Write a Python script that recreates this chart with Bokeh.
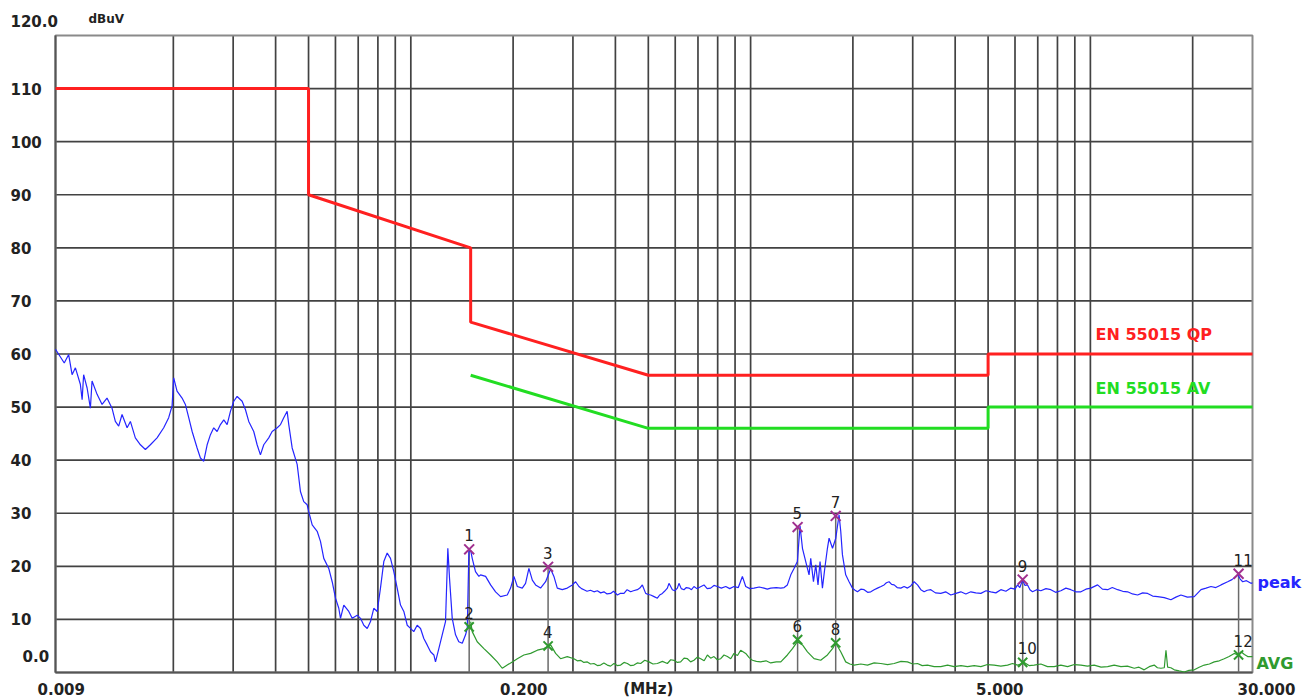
import math
from bokeh.plotting import figure
from bokeh.embed import file_html
from bokeh.resources import INLINE
from bokeh.core.properties import value

# ---------------- data ----------------
X_START, X_END = 0.009, 30.0
Y_START, Y_END = 0.0, 120.0

grid_freqs = [0.02, 0.03, 0.04, 0.05, 0.06, 0.07, 0.08, 0.09, 0.1,
              0.2, 0.3, 0.4, 0.5, 0.6, 0.7, 0.8, 0.9, 1.0,
              2, 3, 4, 5, 6, 7, 8, 9, 10, 20]
level_ticks = [10, 20, 30, 40, 50, 60, 70, 80, 90, 100, 110]
y_tick_labels = ["10", "20", "30", "40", "50", "60", "70", "80", "90", "100", "110"]
x_tick_values = [0.009, 0.2, 0.5, 5.0, 30.0]
x_tick_labels = ["0.009", "0.200", "(MHz)", "5.000", "30.000"]

qp_freq = [0.009, 0.05, 0.05, 0.15, 0.15, 0.5, 5.0, 5.0, 30.0]
qp_level = [110, 110, 90, 80, 66, 56, 56, 60, 60]
av_freq = [0.15, 0.5, 5.0, 5.0, 30.0]
av_level = [56, 46, 46, 50, 50]

peak_freq = [
    0.009, 0.00955, 0.00984, 0.01007, 0.0103, 0.01065, 0.01078, 0.01089, 0.01115, 0.0114,
    0.01153, 0.01193, 0.01234, 0.01276, 0.0132, 0.0135, 0.01381, 0.01413, 0.01462, 0.01495,
    0.01546, 0.016, 0.01655, 0.01712, 0.01791, 0.01874, 0.01938, 0.01983, 0.02005, 0.02051,
    0.02122, 0.0217, 0.0222, 0.02272, 0.0235, 0.02403, 0.02458, 0.02515, 0.02572, 0.0263,
    0.02691, 0.02752, 0.02815, 0.0288, 0.02945, 0.03012, 0.03082, 0.03188, 0.03261, 0.03334,
    0.03449, 0.03529, 0.03609, 0.03691, 0.03818, 0.03907, 0.04044, 0.04135, 0.04227, 0.04325,
    0.04373, 0.04475, 0.04629, 0.04733, 0.0484, 0.04953, 0.05007, 0.05125, 0.05301, 0.05421,
    0.05544, 0.05734, 0.05869, 0.06002, 0.06138, 0.06209, 0.06349, 0.06568, 0.06721, 0.06954,
    0.07111, 0.07272, 0.07441, 0.07609, 0.0778, 0.07962, 0.08141, 0.08327, 0.0852, 0.08713,
    0.0891, 0.09117, 0.09324, 0.09537, 0.09759, 0.0998, 0.102, 0.1044, 0.1068, 0.1092,
    0.1117, 0.1143, 0.1169, 0.1182, 0.1209, 0.1237, 0.1265, 0.1285, 0.13, 0.1324,
    0.1354, 0.1384, 0.1417, 0.1449, 0.1466, 0.1482, 0.15, 0.1516, 0.155, 0.1586,
    0.1604, 0.166, 0.1717, 0.1776, 0.1837, 0.1922, 0.1966, 0.2011, 0.2058, 0.2128,
    0.2176, 0.2226, 0.2278, 0.2329, 0.2409, 0.2493, 0.2579, 0.2637, 0.2698, 0.2791,
    0.2887, 0.2988, 0.3055, 0.3124, 0.318, 0.3232, 0.33, 0.338, 0.3458, 0.354,
    0.362, 0.3701, 0.378, 0.3873, 0.395, 0.4054, 0.413, 0.424, 0.433, 0.4436,
    0.452, 0.4642, 0.472, 0.4802, 0.4911, 0.5, 0.508, 0.52, 0.5316, 0.54,
    0.5499, 0.558, 0.5689, 0.5751, 0.5885, 0.598, 0.6088, 0.6154, 0.625, 0.6366,
    0.647, 0.6585, 0.67, 0.6812, 0.695, 0.71, 0.7292, 0.745, 0.763, 0.78,
    0.7985, 0.82, 0.8449, 0.868, 0.8936, 0.92, 0.9458, 0.9674, 0.995, 1.023,
    1.06, 1.095, 1.12, 1.146, 1.19, 1.227, 1.255, 1.283, 1.313, 1.342,
    1.373, 1.398, 1.421, 1.453, 1.486, 1.503, 1.531, 1.555, 1.579, 1.601,
    1.627, 1.653, 1.683, 1.702, 1.742, 1.781, 1.821, 1.842, 1.863, 1.905,
    1.949, 1.994, 2.03, 2.063, 2.11, 2.158, 2.21, 2.258, 2.31, 2.363,
    2.42, 2.471, 2.51, 2.556, 2.6, 2.645, 2.7, 2.767, 2.83, 2.895,
    2.96, 3.029, 3.099, 3.17, 3.241, 3.31, 3.391, 3.5, 3.629, 3.75,
    3.883, 4.02, 4.156, 4.3, 4.448, 4.6, 4.761, 4.93, 5.093, 5.27,
    5.451, 5.64, 5.833, 6.0, 6.104, 6.2, 6.315, 6.42, 6.533, 6.64,
    6.757, 6.95, 7.148, 7.4, 7.649, 7.9, 8.185, 8.47, 8.76, 9.06,
    9.38, 9.7, 10.03, 10.5, 10.85, 11.24, 11.6, 12.03, 12.45, 12.87,
    13.3, 13.77, 14.25, 14.74, 15.25, 15.77, 16.5, 17.26, 17.85, 18.47,
    19.3, 20.22, 21.16, 21.9, 22.64, 23.4, 24.23, 25.35, 26.1, 26.82,
    27.19, 27.6, 28.07, 28.8, 29.69, 30.0,
]
peak_level = [
    60.9, 58.3, 59.9, 56.1, 57.4, 54.3, 51.4, 56.1, 53.6, 49.8,
    54.9, 52.4, 50.5, 51.7, 49.8, 47.3, 46.4, 48.6, 46.1, 47.3,
    44.2, 42.9, 42.0, 42.9, 44.2, 46.1, 48.0, 50.2, 55.5, 53.0,
    51.7, 50.5, 48.0, 45.4, 42.3, 40.4, 39.8, 42.9, 44.8, 46.1,
    45.4, 46.7, 47.6, 46.7, 49.2, 51.1, 52.0, 51.1, 49.5, 47.3,
    45.4, 42.9, 41.0, 42.9, 44.2, 45.4, 46.1, 46.7, 48.0, 49.2,
    46.7, 42.3, 39.2, 34.1, 32.2, 31.6, 30.3, 27.8, 26.6, 24.7,
    21.5, 19.6, 17.1, 14.0, 12.1, 10.2, 12.7, 11.5, 10.2, 10.8,
    10.2, 8.9, 8.3, 9.6, 12.1, 11.5, 15.9, 20.9, 22.5, 21.5,
    19.0, 15.9, 12.7, 11.5, 8.9, 8.3, 7.7, 8.9, 8.3, 6.4,
    5.2, 3.9, 3.3, 2.0, 4.5, 7.1, 9.6, 23.4, 17.7, 10.2,
    7.1, 5.8, 5.5, 7.1, 8.3, 22.8, 23.0, 21.5, 19.0, 18.1,
    18.4, 18.1, 16.5, 15.2, 14.3, 14.6, 15.9, 18.1, 16.2, 15.9,
    16.8, 19.6, 17.4, 16.5, 15.9, 17.1, 19.5, 18.1, 15.9, 15.6,
    15.9, 16.5, 17.1, 16.2, 15.8, 15.6, 15.3, 15.5, 15.2, 15.4,
    15.0, 15.2, 14.8, 14.9, 15.3, 14.6, 14.9, 14.9, 15.6, 15.2,
    15.4, 15.6, 15.9, 16.5, 14.9, 14.7, 14.6, 14.3, 14.0, 14.6,
    14.9, 15.3, 15.9, 16.8, 15.6, 15.4, 15.9, 16.8, 15.8, 15.6,
    16.0, 15.9, 15.6, 16.2, 15.8, 16.1, 16.5, 15.8, 15.9, 16.4,
    16.2, 15.9, 16.2, 15.8, 16.2, 16.0, 18.1, 16.2, 15.8, 15.9,
    16.1, 15.9, 15.7, 15.9, 16.0, 15.9, 16.0, 16.5, 18.4, 19.6,
    20.9, 27.6, 23.4, 20.9, 18.4, 21.5, 17.1, 20.3, 16.5, 20.9,
    15.9, 19.6, 23.4, 25.3, 23.4, 25.3, 29.7, 26.6, 22.2, 18.4,
    17.1, 15.9, 15.5, 15.2, 15.7, 15.6, 15.1, 15.2, 15.6, 15.9,
    16.2, 16.5, 16.9, 17.1, 16.6, 16.5, 16.0, 15.9, 16.2, 15.9,
    16.3, 17.1, 16.5, 15.6, 15.2, 15.5, 15.6, 15.0, 14.9, 15.2,
    14.6, 14.9, 15.2, 14.8, 15.2, 15.0, 14.9, 15.4, 15.2, 15.0,
    15.6, 15.3, 15.9, 15.7, 16.5, 16.0, 17.4, 16.4, 16.5, 15.6,
    15.2, 15.6, 15.4, 15.8, 15.6, 15.1, 15.4, 15.9, 15.6, 15.2,
    15.2, 15.7, 15.9, 16.5, 15.7, 15.6, 16.0, 15.6, 15.3, 15.2,
    14.8, 14.6, 15.0, 14.9, 14.4, 14.3, 14.1, 13.7, 14.2, 14.6,
    14.2, 14.3, 15.6, 15.9, 16.2, 16.0, 16.5, 17.1, 17.5, 18.1,
    18.4, 17.6, 17.1, 17.3, 16.8, 16.9,
]

avg_freq = [
    0.15, 0.1516, 0.1568, 0.1641, 0.1717, 0.1796, 0.1858, 0.1922, 0.1989, 0.2058,
    0.2151, 0.2252, 0.2357, 0.2464, 0.2579, 0.2668, 0.2759, 0.2887, 0.302, 0.309,
    0.316, 0.323, 0.3307, 0.338, 0.3458, 0.354, 0.3618, 0.37, 0.3786, 0.387,
    0.3962, 0.405, 0.4145, 0.424, 0.4338, 0.443, 0.4536, 0.464, 0.4747, 0.488,
    0.5022, 0.516, 0.5316, 0.55, 0.5689, 0.582, 0.595, 0.609, 0.6224, 0.637,
    0.6516, 0.666, 0.6812, 0.697, 0.7131, 0.73, 0.7462, 0.763, 0.7803, 0.798,
    0.8166, 0.835, 0.8545, 0.874, 0.8936, 0.915, 0.935, 0.9674, 0.99, 1.012,
    1.04, 1.071, 1.11, 1.146, 1.19, 1.227, 1.283, 1.328, 1.373, 1.421,
    1.47, 1.537, 1.608, 1.683, 1.742, 1.781, 1.842, 1.905, 1.96, 2.016,
    2.11, 2.208, 2.31, 2.416, 2.53, 2.645, 2.77, 2.895, 3.0, 3.099,
    3.2, 3.316, 3.47, 3.629, 3.8, 3.971, 4.16, 4.349, 4.55, 4.761,
    4.98, 5.208, 5.45, 5.704, 5.9, 6.104, 6.25, 6.384, 6.6, 6.831,
    7.15, 7.478, 7.822, 8.185, 8.57, 8.97, 9.38, 9.8, 10.26, 10.75,
    11.24, 11.75, 12.3, 12.85, 13.46, 13.9, 14.4, 14.9, 15.41, 15.75,
    16.13, 16.5, 16.69, 16.88, 17.25, 17.66, 18.25, 18.89, 19.5, 20.22,
    20.9, 21.64, 22.4, 23.15, 23.95, 24.77, 25.6, 26.51, 27.19, 27.75,
    28.4, 29.04, 30.0,
]
avg_level = [
    9.6, 7.7, 5.8, 4.5, 3.3, 2.0, 0.8, 1.4, 2.0, 2.6,
    3.3, 3.6, 4.2, 4.5, 5.2, 3.6, 2.6, 3.0, 2.6, 2.2,
    2.3, 1.9, 2.0, 1.6, 1.7, 1.3, 1.4, 1.8, 1.4, 1.2,
    1.7, 1.3, 1.4, 1.9, 1.7, 1.3, 1.4, 1.8, 1.7, 2.3,
    2.0, 1.6, 1.7, 2.1, 1.7, 2.4, 2.3, 1.9, 2.0, 2.7,
    2.6, 2.0, 2.3, 2.9, 2.6, 2.2, 3.3, 2.7, 3.0, 2.4,
    2.6, 3.3, 3.0, 2.6, 3.6, 3.2, 4.2, 3.6, 2.8, 2.3,
    2.1, 2.0, 2.2, 1.8, 2.0, 2.0, 3.3, 4.5, 5.8, 5.2,
    3.9, 2.6, 2.3, 3.3, 4.5, 5.5, 3.9, 2.0, 1.6, 1.4,
    1.6, 1.4, 1.8, 1.7, 1.5, 1.7, 2.1, 2.0, 1.6, 1.7,
    1.3, 1.4, 1.1, 1.1, 1.4, 1.1, 1.3, 1.1, 1.3, 1.1,
    1.5, 1.4, 1.2, 1.4, 1.7, 1.4, 1.6, 1.9, 1.3, 1.4,
    1.6, 1.1, 1.1, 1.4, 1.1, 1.5, 1.4, 1.2, 1.4, 1.0,
    1.1, 1.4, 1.1, 1.2, 0.8, 1.0, 0.5, 1.1, 1.4, 0.9,
    0.8, 0.9, 4.2, 1.0, 0.9, 0.5, 0.3, 0.1, 0.4, 0.5,
    1.0, 1.4, 1.6, 2.0, 2.2, 2.6, 3.0, 3.6, 3.3, 3.9,
    3.4, 3.0, 3.0,
]

marker_ids = ["1", "2", "3", "4", "5", "6", "7", "8", "9", "10", "11", "12"]
marker_freq = [0.1485, 0.1485, 0.2535, 0.2535, 1.375, 1.375, 1.78, 1.78, 6.32, 6.32, 27.3, 27.3]
marker_level = [23.2, 8.6, 19.9, 5.0, 27.4, 6.2, 29.5, 5.6, 17.5, 1.9, 18.6, 3.3]

# ---------------- layout & styles ----------------
W, H = 1314, 700
FRAME_L, FRAME_R, FRAME_T, FRAME_B = 55, 1252, 35, 672   # plot box in pixels
dec_per_px = math.log10(X_END / X_START) / (FRAME_R - FRAME_L)
db_per_px = (Y_END - Y_START) / (FRAME_B - FRAME_T)
x_lo = X_START / 10 ** (FRAME_L * dec_per_px)
x_hi = X_END * 10 ** ((W - FRAME_R) * dec_per_px)
y_lo = Y_START - (H - FRAME_B) * db_per_px
y_hi = Y_END + FRAME_T * db_per_px

FONT = value("DejaVu Sans")
GRID_COLOR = "#424242"
PEAK_COLOR = "#2525ff"
AVG_COLOR = "#2f9a2f"
QP_COLOR = "#ff2020"
AV_COLOR = "#22dd22"
PEAK_MARK_COLOR = "#a0308f"
TEXT_COLOR = "#222222"

p = figure(width=W, height=H, x_axis_type="log",
           x_range=(x_lo, x_hi), y_range=(y_lo, y_hi),
           x_axis_location=None, y_axis_location=None,
           toolbar_location=None, output_backend="svg", title=None,
           min_border=0, background_fill_color="white", border_fill_color="white",
           outline_line_color=None)
p.grid.visible = False

# grid lines inside the plot box
p.segment(x0=grid_freqs, y0=[Y_START] * len(grid_freqs), x1=grid_freqs,
          y1=[Y_END] * len(grid_freqs), line_color=GRID_COLOR, line_width=1.7)
p.segment(x0=[X_START] * len(level_ticks), y0=level_ticks, x1=[X_END] * len(level_ticks),
          y1=level_ticks, line_color=GRID_COLOR, line_width=1.7)
# plot box
p.quad(left=[X_START], right=[X_END], bottom=[Y_START], top=[Y_END],
       fill_color=None, line_color="#8a8a8a", line_width=2)
p.segment(x0=[X_START, X_START], y0=[Y_START, Y_START], x1=[X_START, X_END], y1=[Y_END, Y_START],
          line_color="#555555", line_width=2)

# marker drop lines (from peak markers down to the bottom)
odd_f = marker_freq[0::2]
odd_l = marker_level[0::2]
p.segment(x0=odd_f, y0=[Y_START] * len(odd_f), x1=odd_f, y1=odd_l,
          line_color="#6a6a6a", line_width=1.5)

# limit lines
p.line(qp_freq, qp_level, line_color=QP_COLOR, line_width=3)
p.line(av_freq, av_level, line_color=AV_COLOR, line_width=3)

# traces
p.line(avg_freq, avg_level, line_color=AVG_COLOR, line_width=1.2)
p.line(peak_freq, peak_level, line_color=PEAK_COLOR, line_width=1.2)

# markers
p.scatter(marker_freq[0::2], marker_level[0::2], marker="x", size=14,
          line_color=PEAK_MARK_COLOR, line_width=2)
p.scatter(marker_freq[1::2], marker_level[1::2], marker="x", size=13,
          line_color=AVG_COLOR, line_width=2)
p.text(marker_freq, marker_level, text=marker_ids, text_align="left",
       text_baseline="bottom", x_offset=-5, y_offset=-8,
       text_font=FONT, text_font_size="15px", text_color=TEXT_COLOR)


def put_text(x, y, txt, dx=0, dy=0, size="15px", color=TEXT_COLOR, style="bold", align="left"):
    p.text(x=[x], y=[y], text=[txt], x_offset=dx, y_offset=dy, text_align=align,
           text_baseline="middle", text_font=FONT, text_font_style=style,
           text_font_size=size, text_color=color)


# y tick labels
for v, t in zip(level_ticks, y_tick_labels):
    put_text(X_START, v, t, dx=-45)
put_text(X_START, Y_START, "0.0", dx=-33, dy=-17)
put_text(X_START, Y_END, "120.0", dx=-45, dy=-15)
put_text(X_START, Y_END, "dBuV", dx=33, dy=-17, size="12px")

# x tick labels
x_label_offsets = [-18, -13, -25, -12, -15]
for v, t, o in zip(x_tick_values, x_tick_labels, x_label_offsets):
    put_text(v, Y_START, t, dx=o, dy=16)

# series labels
put_text(X_END, 60, "EN 55015 QP", dx=-157, dy=-20, size="16px", color=QP_COLOR)
put_text(X_END, 50, "EN 55015 AV", dx=-157, dy=-19, size="16px", color=AV_COLOR)
put_text(X_END, peak_level[-1], "peak", dx=5, size="16px", color=PEAK_COLOR)
put_text(X_END, avg_level[-1], "AVG", dx=4, dy=7, size="16px", color=AVG_COLOR)

open("out.html", "w").write(file_html(p, INLINE))
